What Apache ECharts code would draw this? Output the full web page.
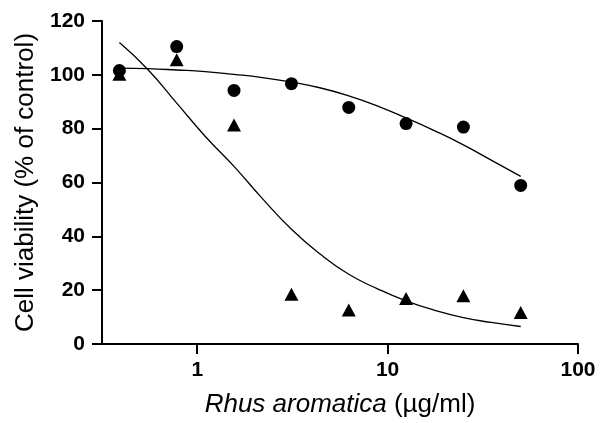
<!DOCTYPE html>
<html>
<head>
<meta charset="utf-8">
<script src="https://cdn.jsdelivr.net/npm/echarts@6/dist/echarts.min.js"></script>
<style>
  html, body {margin: 0; padding: 0; background: #fff;}
  #chart {width: 613px; height: 423px;}
</style>
</head>
<body>
<div id="chart"></div>
<script>
// concentrations (µg/ml)
const conc = [0.39, 0.78, 1.56, 3.125, 6.25, 12.5, 25, 50]
// measured points
const circleVals = [101.6, 110.5, 94.2, 96.7, 87.9, 81.9, 80.6, 58.9]
const triangleVals = [100.2, 105.6, 81.4, 18.5, 12.6, 16.9, 17.9, 11.7]
// fitted curves
const curveX = [0.39, 0.55, 0.78, 1.1, 1.56, 2.2, 3.125, 4.4, 6.25, 8.8, 12.5, 17.7, 25, 35, 50]
const circleCurve = [102.5, 102.3, 101.8, 101.2, 100.2, 99, 97.3, 95.2, 92.2, 88.5, 84, 79.2, 74, 68.3, 62.3]
const triangleCurve = [112, 102, 89.5, 77.2, 66, 54, 42.6, 33.5, 25.9, 20.6, 16, 12.5, 9.8, 8, 6.5]
const xTicks = [1, 10, 100]

const pair = (xs, ys) => xs.map((x, i) => [x, ys[i]])

const font = 'Liberation Sans, Arial, sans-serif'

let chart = echarts.init(document.getElementById('chart'))
let option = {
  animation: false,
  grid: {left: 102, right: 35, top: 21, bottom: 78},
  xAxis: {
    type: 'log',
    logBase: 10,
    min: 0.316,
    max: 100,
    name: '{i|Rhus aromatica} (µg/ml)',
    nameLocation: 'middle',
    nameGap: 48,
    nameTextStyle: {
      fontFamily: font, fontSize: 26, color: '#000',
      rich: {i: {fontFamily: font, fontSize: 26, fontStyle: 'italic', color: '#000'}}
    },
    axisLine: {lineStyle: {color: '#000', width: 2}},
    axisTick: {customValues: xTicks, length: 10, lineStyle: {color: '#000', width: 2}},
    axisLabel: {
      customValues: xTicks, margin: 16,
      fontFamily: font, fontSize: 21, fontWeight: 700, color: '#000'
    },
    splitLine: {show: false},
    minorTick: {show: false}
  },
  yAxis: {
    type: 'value',
    min: 0,
    max: 120,
    interval: 20,
    name: 'Cell viability (% of control)',
    nameLocation: 'middle',
    nameGap: 61,
    nameTextStyle: {fontFamily: font, fontSize: 26, color: '#000'},
    axisLine: {show: true, lineStyle: {color: '#000', width: 2}},
    axisTick: {show: true, length: 10, lineStyle: {color: '#000', width: 2}},
    axisLabel: {margin: 17, fontFamily: font, fontSize: 21, fontWeight: 700, color: '#000'},
    splitLine: {show: false}
  },
  series: [
    {
      type: 'line', data: pair(curveX, circleCurve), smooth: true,
      showSymbol: false, lineStyle: {color: '#000', width: 1.3}
    },
    {
      type: 'line', data: pair(curveX, triangleCurve), smooth: true,
      showSymbol: false, lineStyle: {color: '#000', width: 1.3}
    },
    {
      type: 'scatter', data: pair(conc, triangleVals), symbol: 'triangle',
      symbolSize: [14, 13], itemStyle: {color: '#000', opacity: 1}
    },
    {
      type: 'scatter', data: pair(conc, circleVals), symbol: 'circle',
      symbolSize: 13, itemStyle: {color: '#000', opacity: 1}
    }
  ]
}
chart.setOption(option)
</script>
</body>
</html>
